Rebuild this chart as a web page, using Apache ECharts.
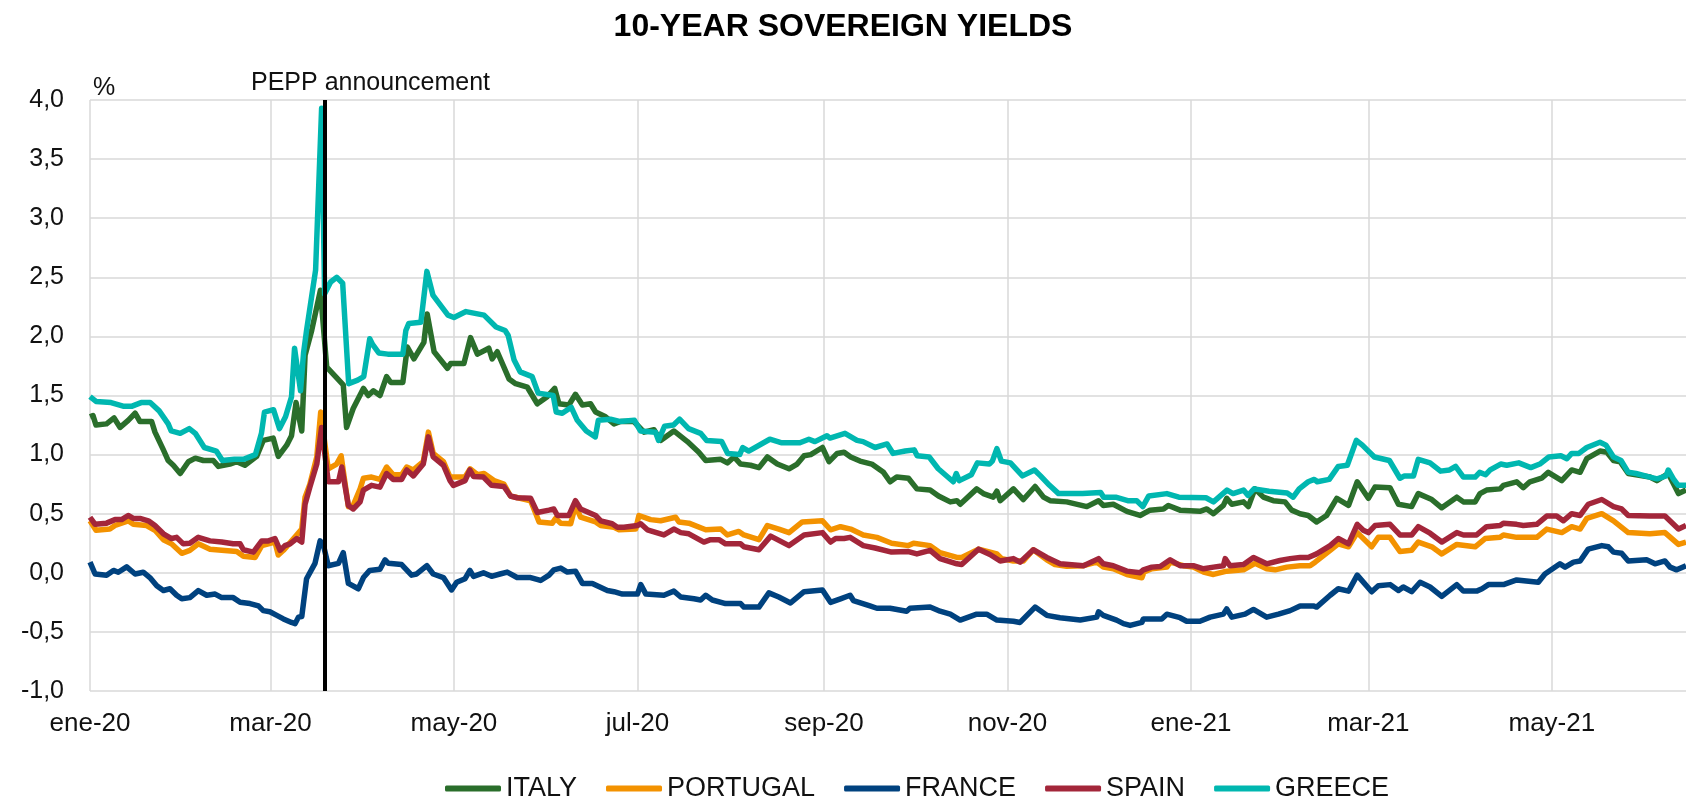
<!DOCTYPE html>
<html>
<head>
<meta charset="utf-8">
<script src="https://cdn.jsdelivr.net/npm/echarts@6/dist/echarts.min.js"></script>
<style>
  html, body { margin: 0; padding: 0; background: #fff; }
  #chart { width: 1686px; height: 804px; }
</style>
</head>
<body>
<div id="chart"></div>
<script>
// x values are days counted from 1 Jan 2020, y values are yields in %
const italy = [[0,1.32],[1,1.33],[2,1.25],[5.5,1.26],[8,1.31],[10,1.23],[12.7,1.29],[15,1.35],[16.6,1.28],[20.5,1.28],[21.6,1.19],[24.4,1.04],[26,0.95],[27.7,0.91],[30,0.84],[32.7,0.94],[35,0.97],[37.7,0.95],[41,0.95],[42.7,0.9],[46.5,0.92],[48.8,0.94],[51.5,0.91],[55.4,0.985],[57.6,1.12],[60.9,1.14],[62.6,0.985],[65.4,1.08],[67,1.16],[68.5,1.44],[70.4,1.2],[71.5,1.84],[73.7,2.05],[76.6,2.39],[78.7,1.74],[84.2,1.59],[85.3,1.23],[87.5,1.39],[90.9,1.56],[92.5,1.5],[94.2,1.54],[96.4,1.5],[98.6,1.66],[100,1.61],[104,1.61],[105.5,1.91],[107.7,1.81],[111,1.95],[112.1,2.19],[114.4,1.87],[118.8,1.73],[119.9,1.77],[124.3,1.77],[126.5,1.99],[128.8,1.85],[132.6,1.9],[133.7,1.81],[135.4,1.87],[139.3,1.64],[141.5,1.6],[145.4,1.57],[148.7,1.43],[152,1.49],[154.5,1.56],[155.9,1.43],[159.2,1.42],[161.4,1.51],[163.7,1.42],[166.4,1.43],[168.1,1.36],[171.4,1.32],[174.2,1.26],[176.4,1.28],[180.8,1.28],[184.2,1.19],[187.5,1.21],[189.7,1.12],[194.1,1.2],[198.6,1.11],[202.4,1.02],[204.7,0.95],[209.7,0.96],[211.9,0.93],[214.1,0.98],[216.3,0.92],[219.6,0.91],[222.4,0.89],[225.2,0.98],[228.5,0.92],[232.4,0.88],[235.1,0.92],[237.4,0.99],[239.6,1.0],[243.5,1.06],[245.7,0.94],[248.4,1.01],[250.7,1.02],[252.9,0.98],[256,0.945],[259.9,0.92],[263.8,0.85],[266,0.77],[268.2,0.81],[272.1,0.8],[274.9,0.71],[279.3,0.7],[282.1,0.65],[286,0.6],[288.2,0.61],[289.3,0.58],[294.8,0.71],[297,0.67],[300.3,0.64],[301.5,0.69],[302.6,0.61],[307,0.71],[310.3,0.62],[314.2,0.73],[317,0.64],[319.2,0.61],[324.7,0.6],[331.4,0.56],[335.3,0.61],[336.9,0.57],[340.2,0.58],[344.7,0.52],[349.1,0.485],[352.4,0.53],[356.9,0.54],[358.5,0.57],[362.4,0.53],[369,0.52],[371.3,0.54],[373.5,0.5],[376.8,0.57],[377.9,0.63],[379.6,0.58],[383.5,0.6],[385.1,0.56],[387.3,0.71],[390.1,0.64],[393.4,0.61],[397.3,0.6],[399.5,0.53],[402.3,0.5],[405,0.485],[407.8,0.43],[411.1,0.485],[414.5,0.63],[418.4,0.57],[421.3,0.77],[425,0.63],[427.2,0.725],[432.2,0.72],[435,0.58],[439.4,0.56],[441.6,0.67],[446.1,0.62],[449.4,0.55],[454.4,0.64],[456.6,0.6],[460.5,0.6],[462.1,0.67],[464.3,0.7],[468.8,0.71],[469.9,0.74],[474.3,0.77],[476.5,0.72],[478.7,0.77],[482.6,0.8],[484.8,0.85],[489.3,0.78],[492.6,0.87],[495.4,0.85],[497.6,0.965],[502,1.03],[504.3,1.02],[506.5,0.95],[508.7,0.94],[511.4,0.84],[518.6,0.81],[520.9,0.78],[524.7,0.84],[528.1,0.67],[530.6,0.7]];

const portugal = [[0,0.44],[2,0.36],[6.6,0.37],[8.3,0.4],[12.7,0.44],[14.4,0.41],[18.8,0.4],[21.6,0.36],[24.4,0.28],[27.1,0.245],[30.5,0.165],[33.2,0.19],[36,0.245],[39.9,0.2],[43.8,0.19],[48.8,0.18],[51,0.14],[54.9,0.13],[57.1,0.23],[61.5,0.26],[62.6,0.15],[64.3,0.19],[68.7,0.32],[70.4,0.37],[71.5,0.64],[73.1,0.75],[75.4,0.98],[76.7,1.36],[79.2,0.88],[82,0.92],[83.5,0.99],[85.9,0.56],[87.5,0.57],[89.8,0.71],[90.9,0.8],[93.6,0.81],[96.4,0.79],[98.6,0.895],[100.8,0.83],[103.6,0.83],[105.3,0.895],[107.5,0.87],[110.8,0.94],[112.5,1.19],[114.1,1.01],[117.5,0.94],[119.7,0.81],[124.7,0.81],[126.4,0.88],[128.8,0.83],[131,0.84],[134.3,0.78],[137.6,0.75],[139.8,0.65],[146.5,0.61],[149.3,0.43],[153.7,0.42],[154.8,0.46],[156.5,0.42],[159.8,0.415],[161.4,0.57],[163.1,0.47],[168.1,0.43],[169.8,0.4],[174.2,0.385],[175.9,0.364],[181.4,0.37],[182.5,0.485],[186.4,0.45],[189.7,0.44],[194.7,0.47],[195.8,0.43],[199.1,0.42],[204.7,0.364],[209.7,0.37],[211.9,0.32],[215.7,0.35],[217.4,0.32],[222.4,0.28],[225.2,0.4],[229,0.37],[232.4,0.34],[236.8,0.43],[243.5,0.44],[246.2,0.364],[249.5,0.39],[252.9,0.37],[257.1,0.32],[261.6,0.3],[266.5,0.25],[272.1,0.23],[273.8,0.25],[279.3,0.23],[282.6,0.17],[288.2,0.13],[289.8,0.13],[295.4,0.2],[301.5,0.16],[303.1,0.12],[307,0.1],[310.3,0.1],[313.6,0.195],[318.1,0.11],[320.8,0.07],[324.7,0.056],[330.3,0.06],[334.7,0.09],[336.9,0.048],[340.2,0.034],[344.7,-0.014],[349.7,-0.042],[350.4,0.006],[353,0.034],[358,0.048],[359.1,0.09],[363.5,0.06],[366.8,0.048],[370.2,0.006],[373.5,-0.014],[377.9,0.014],[383.5,0.025],[387.3,0.08],[391.2,0.034],[394,0.025],[397.9,0.048],[402.3,0.06],[405.6,0.06],[407.3,0.09],[412.3,0.19],[415,0.245],[418.4,0.22],[421.3,0.34],[426.1,0.22],[428.3,0.3],[432.2,0.3],[435.5,0.18],[439.4,0.19],[441.6,0.26],[446.1,0.22],[449.4,0.16],[454.4,0.24],[460.5,0.22],[463.8,0.29],[468.8,0.3],[469.9,0.32],[474.3,0.3],[481,0.3],[484.3,0.37],[489.3,0.34],[492.6,0.39],[495.4,0.37],[497.6,0.46],[502.6,0.5],[506.5,0.44],[511.4,0.34],[518.6,0.33],[523.6,0.34],[528.1,0.24],[530.6,0.26]];

const france = [[0,0.09],[1.7,-0.01],[5.5,-0.02],[7.8,0.02],[9.4,0.005],[12.2,0.05],[15,-0.01],[17.7,0.005],[19.9,-0.04],[22.2,-0.11],[24.4,-0.15],[26.6,-0.135],[28.8,-0.19],[30.5,-0.22],[33.2,-0.21],[36,-0.15],[38.8,-0.19],[41.6,-0.18],[43.8,-0.21],[47.6,-0.21],[49.9,-0.25],[53.2,-0.26],[56,-0.28],[57.6,-0.32],[59.8,-0.33],[62.1,-0.36],[64.3,-0.39],[67,-0.42],[68.2,-0.43],[69.3,-0.375],[70.4,-0.37],[72,-0.05],[74.8,0.08],[76.5,0.27],[77.5,0.245],[79.2,0.06],[82.6,0.08],[84.2,0.17],[85.9,-0.09],[89.2,-0.135],[90.9,-0.04],[93,0.02],[96.4,0.03],[98.1,0.11],[99.2,0.08],[103.6,0.07],[106.9,-0.02],[108.6,-0.01],[112,0.06],[114.1,-0.01],[117.5,-0.04],[120.2,-0.145],[121.9,-0.08],[124.7,-0.05],[126.3,0.02],[127.5,-0.03],[130.8,0.0],[133.5,-0.03],[136.3,-0.01],[138.7,0.006],[142,-0.04],[146.5,-0.04],[149.8,-0.065],[152.6,-0.02],[154.2,0.025],[156.5,0.04],[158.7,0.006],[161.4,0.014],[163.7,-0.09],[167,-0.09],[172,-0.15],[174.2,-0.16],[177,-0.18],[182,-0.18],[183.1,-0.1],[184.8,-0.18],[190.8,-0.19],[194.1,-0.155],[196.4,-0.205],[200.8,-0.22],[203,-0.23],[204.7,-0.19],[206.9,-0.23],[211.3,-0.26],[216.3,-0.26],[217.4,-0.29],[222.4,-0.29],[225.7,-0.17],[229,-0.205],[232.9,-0.255],[237.4,-0.16],[243.5,-0.145],[246.2,-0.25],[249.5,-0.22],[252.7,-0.19],[253.8,-0.235],[259.3,-0.28],[261.6,-0.3],[266,-0.3],[271.5,-0.325],[272.6,-0.3],[279.3,-0.29],[282.6,-0.325],[286,-0.35],[289.3,-0.4],[294.8,-0.35],[298.1,-0.35],[301.5,-0.4],[307,-0.41],[309.2,-0.42],[314.2,-0.29],[318.1,-0.36],[322.5,-0.38],[329.2,-0.4],[334.7,-0.375],[335.3,-0.33],[336.9,-0.36],[341.3,-0.4],[343.6,-0.43],[345.8,-0.445],[349.7,-0.42],[350.2,-0.39],[356.3,-0.39],[358,-0.35],[362.4,-0.38],[364.6,-0.41],[369,-0.41],[372.4,-0.375],[376.8,-0.35],[377.9,-0.305],[379.6,-0.375],[384,-0.35],[386.8,-0.31],[391.2,-0.375],[395.1,-0.35],[399,-0.32],[402.3,-0.28],[406.7,-0.28],[407.8,-0.29],[412.3,-0.19],[415,-0.135],[418.4,-0.155],[421.3,-0.02],[426.1,-0.16],[428.3,-0.11],[432.2,-0.1],[435,-0.15],[436.6,-0.12],[439.4,-0.16],[442.2,-0.08],[445.5,-0.12],[449.4,-0.2],[454.4,-0.1],[456.6,-0.155],[461,-0.155],[462.8,-0.135],[464.9,-0.1],[469.9,-0.1],[474.3,-0.06],[481.5,-0.08],[483.7,-0.01],[488.7,0.076],[490.4,0.048],[493.2,0.09],[495.4,0.1],[498.1,0.2],[502.6,0.23],[504.8,0.22],[506.5,0.175],[509.2,0.166],[511.4,0.1],[517.5,0.11],[520.3,0.076],[523.6,0.1],[525.3,0.048],[527.5,0.025],[530.6,0.06]];

const spain = [[0,0.47],[1.7,0.41],[5.5,0.42],[8.3,0.45],[10.5,0.45],[12.7,0.485],[14.4,0.46],[16.6,0.46],[19.4,0.44],[21.6,0.4],[24.4,0.33],[27.1,0.29],[28.8,0.3],[31,0.245],[33.2,0.25],[36,0.3],[39.9,0.27],[43.8,0.26],[47.6,0.245],[49.9,0.245],[51,0.195],[54.3,0.175],[57.1,0.27],[59.3,0.27],[61.5,0.29],[63.2,0.19],[64.8,0.23],[66.5,0.245],[68.7,0.29],[70.4,0.26],[71.5,0.58],[73.1,0.725],[75.4,0.92],[77,1.23],[79.2,0.77],[82.6,0.77],[83.7,0.895],[85.9,0.57],[87.5,0.54],[89.8,0.6],[90.9,0.7],[93.6,0.74],[96.4,0.725],[98.6,0.84],[100.8,0.79],[103.6,0.79],[105.3,0.87],[107.5,0.82],[110.8,0.92],[112.5,1.15],[114.1,0.98],[117.5,0.91],[119.7,0.78],[120.8,0.74],[124.7,0.78],[126.3,0.87],[127.5,0.815],[130.8,0.81],[133.5,0.74],[137.6,0.73],[139.8,0.65],[142,0.635],[146.5,0.63],[148.7,0.51],[152.6,0.53],[154.2,0.54],[155.4,0.485],[159.2,0.485],[161.4,0.61],[163.1,0.54],[168.1,0.485],[169.8,0.44],[173.6,0.415],[175.3,0.385],[177.5,0.385],[182,0.4],[183.1,0.415],[185.3,0.364],[190.8,0.32],[194.1,0.37],[196.4,0.34],[199.1,0.33],[204.1,0.26],[206.3,0.28],[209.1,0.28],[211.3,0.245],[216.3,0.245],[217.4,0.22],[222.4,0.195],[226.3,0.31],[232.4,0.23],[237.4,0.32],[243.5,0.34],[246.2,0.26],[247.9,0.29],[250.7,0.29],[252.7,0.3],[257.1,0.23],[261,0.21],[266.5,0.175],[272.1,0.18],[274.9,0.16],[279.3,0.19],[282.6,0.12],[288.2,0.076],[289.8,0.07],[295.4,0.2],[299.2,0.155],[302.6,0.1],[307,0.12],[309.2,0.09],[313.6,0.195],[318.1,0.13],[322.5,0.076],[330.3,0.06],[335.3,0.12],[336.9,0.076],[340.2,0.06],[344.7,0.014],[349.1,0.0],[350.2,0.025],[353,0.048],[355.8,0.054],[359.1,0.11],[362.4,0.06],[366.8,0.06],[370.2,0.034],[373.5,0.048],[376.8,0.06],[377.4,0.12],[379,0.06],[383.5,0.07],[386.8,0.13],[391.2,0.076],[395.6,0.104],[399,0.12],[402.3,0.13],[405,0.13],[407.8,0.16],[412.3,0.23],[415,0.29],[418.4,0.245],[421.3,0.41],[423.3,0.36],[425,0.34],[427.2,0.4],[432.2,0.41],[435.5,0.32],[439.4,0.32],[441.6,0.39],[445.5,0.335],[449.4,0.26],[454.4,0.34],[456.6,0.32],[461,0.32],[464.3,0.39],[468.8,0.4],[469.9,0.42],[474.3,0.41],[476.5,0.4],[481,0.41],[484.3,0.48],[487.6,0.48],[489.8,0.44],[492.6,0.5],[495.4,0.485],[498.1,0.58],[502.6,0.62],[506.5,0.56],[509.2,0.54],[511.4,0.485],[518.6,0.48],[523.6,0.48],[528.1,0.37],[530.6,0.4]];

const greece = [[0,1.49],[2,1.45],[7,1.44],[11,1.41],[14,1.41],[17,1.44],[20,1.44],[23,1.37],[26,1.26],[27,1.2],[30,1.18],[33,1.22],[35,1.18],[38,1.06],[42,1.03],[44,0.95],[48,0.96],[51,0.96],[55,1.0],[57,1.18],[58,1.36],[61,1.38],[63,1.22],[65,1.32],[67,1.49],[68,1.9],[70,1.54],[71,1.86],[72,2.05],[75,2.56],[77,3.93],[78,2.36],[80,2.46],[82,2.5],[84,2.45],[86,1.6],[89,1.63],[91,1.66],[93,1.98],[94,1.93],[96,1.86],[99,1.85],[104,1.85],[105,2.05],[106,2.11],[110,2.12],[112,2.55],[114,2.35],[119,2.18],[121,2.16],[125,2.21],[131,2.18],[135,2.08],[138,2.05],[139,2.01],[141,1.8],[143,1.7],[147,1.66],[149,1.52],[154,1.5],[155,1.36],[157,1.35],[160,1.4],[162,1.29],[165,1.2],[168,1.15],[169,1.29],[173,1.3],[176,1.28],[181,1.29],[183,1.2],[188,1.19],[189,1.12],[191,1.24],[194,1.25],[196,1.3],[199,1.22],[203,1.18],[205,1.12],[210,1.11],[212,1.01],[216,1.0],[217,1.06],[219,1.03],[226,1.13],[230,1.1],[236,1.1],[239,1.13],[241,1.11],[245,1.16],[246,1.14],[251,1.18],[255,1.12],[257,1.11],[261,1.06],[265,1.09],[267,1.01],[271,1.03],[274,1.04],[275,0.99],[279,0.98],[282,0.88],[287,0.77],[288,0.84],[289,0.78],[293,0.83],[295,0.93],[299,0.92],[300,0.945],[301.5,1.05],[303,0.945],[306,0.93],[310,0.82],[314,0.87],[316,0.82],[319,0.74],[322,0.67],[328,0.67],[330,0.67],[336,0.68],[337,0.64],[341,0.64],[345,0.61],[348,0.61],[350,0.56],[352,0.65],[358,0.67],[362,0.64],[371,0.635],[373.5,0.6],[378,0.7],[380,0.67],[383.5,0.7],[385,0.655],[387,0.71],[392,0.69],[398,0.675],[400,0.64],[402,0.71],[405,0.77],[407,0.79],[408,0.77],[412,0.79],[415,0.9],[418,0.91],[421,1.12],[423,1.08],[427,0.98],[432,0.95],[435.5,0.8],[437,0.82],[440,0.82],[441.6,0.96],[445.5,0.93],[449,0.86],[452,0.87],[454,0.9],[456.6,0.81],[460.5,0.81],[462,0.85],[464,0.83],[465.5,0.87],[469,0.92],[471,0.91],[475,0.93],[479,0.89],[482,0.92],[485,0.98],[489,0.99],[491,0.965],[492.6,1.01],[495,1.01],[497.6,1.06],[502,1.105],[504,1.08],[506.5,0.98],[509,0.95],[511.4,0.85],[514,0.84],[518.6,0.81],[521,0.795],[524,0.82],[524.7,0.87],[526.4,0.795],[528,0.74],[530.6,0.74]];

const seriesNames = ['ITALY', 'PORTUGAL', 'FRANCE', 'SPAIN', 'GREECE'];
const seriesColors = ['#2a6e2b', '#f39200', '#00427f', '#a3263a', '#00b7b0'];
const tickMonths = ['2020-01', '2020-03', '2020-05', '2020-07', '2020-09', '2020-11', '2021-01', '2021-03', '2021-05'];
const monthNames = ['ene', 'feb', 'mar', 'abr', 'may', 'jun', 'jul', 'ago', 'sep', 'oct', 'nov', 'dic'];
const peppDay = 78; // 19 Mar 2020
const lastDay = 530.6;

const DAY = 86400000;
const t0 = Date.UTC(2020, 0, 1);
// tick positions as day offsets from 1 Jan 2020
const ticks = tickMonths.map(s => {
  const [y, m] = s.split('-').map(Number);
  return Math.round((Date.UTC(y, m - 1, 1) - t0) / DAY);
});
const dayLabel = (v) => {
  const d = new Date(t0 + v * DAY);
  return monthNames[d.getUTCMonth()] + '-' + String(d.getUTCFullYear()).slice(2);
};

const FONT = "'Liberation Sans', Arial, sans-serif";
const allData = [italy, portugal, france, spain, greece];

const chart = echarts.init(document.getElementById('chart'), null, { renderer: 'canvas' });

const series = allData.map((d, i) => ({
  name: seriesNames[i],
  type: 'line',
  data: d,
  symbol: 'none',
  smooth: false,
  color: seriesColors[i],
  lineStyle: { width: 5.5, color: seriesColors[i], join: 'round' },
  animation: false
}));

// PEPP announcement vertical line
series.push({
  name: 'PEPP',
  type: 'line',
  data: [],
  z: 10,
  markLine: {
    silent: true,
    symbol: ['none', 'none'],
    label: { show: false },
    lineStyle: { color: '#000', width: 4, type: 'solid' },
    data: [{ xAxis: peppDay }],
    animation: false
  }
});

chart.setOption({
  backgroundColor: '#fff',
  animation: false,
  textStyle: { fontFamily: FONT },
  title: {
    text: '10-YEAR SOVEREIGN YIELDS',
    left: 'center',
    top: 6,
    textStyle: { fontFamily: FONT, fontSize: 32, fontWeight: 'bold', color: '#000' }
  },
  graphic: [{
    type: 'text',
    left: 251,
    top: 71,
    style: { text: 'PEPP announcement', fontFamily: FONT, fontSize: 25, fill: '#111' }
  }],
  legend: {
    data: seriesNames,
    left: 445,
    top: 775,
    padding: 0,
    icon: 'roundRect',
    itemWidth: 56,
    itemHeight: 6,
    itemGap: 29,
    textStyle: { fontFamily: FONT, fontSize: 27, color: '#111' }
  },
  grid: {
    left: 90,
    right: 0,
    top: 100,
    bottom: 113,
    containLabel: false,
    outerBoundsMode: 'none'
  },
  xAxis: {
    type: 'value',
    min: 0,
    max: lastDay,
    axisLine: { show: false },
    axisTick: { show: false, customValues: ticks },
    axisLabel: {
      customValues: ticks,
      margin: 20,
      fontSize: 26,
      fontFamily: FONT,
      color: '#111',
      formatter: dayLabel
    },
    splitLine: { show: true, lineStyle: { color: '#d9d9d9', width: 1.5 } }
  },
  yAxis: {
    type: 'value',
    min: -1,
    max: 4,
    interval: 0.5,
    name: '%',
    nameLocation: 'end',
    nameGap: -1,
    nameTextStyle: { fontFamily: FONT, fontSize: 25, color: '#111', align: 'left', padding: [0, 0, 0, 3] },
    axisLine: { show: false },
    axisTick: { show: false },
    axisLabel: {
      margin: 26,
      fontSize: 25,
      fontFamily: FONT,
      color: '#111',
      formatter: (v) => v.toFixed(1).replace('.', ',')
    },
    splitLine: { show: true, lineStyle: { color: '#d9d9d9', width: 1.5 } }
  },
  tooltip: { show: false },
  series: series
});

window.addEventListener('resize', () => chart.resize());
</script>
</body>
</html>
